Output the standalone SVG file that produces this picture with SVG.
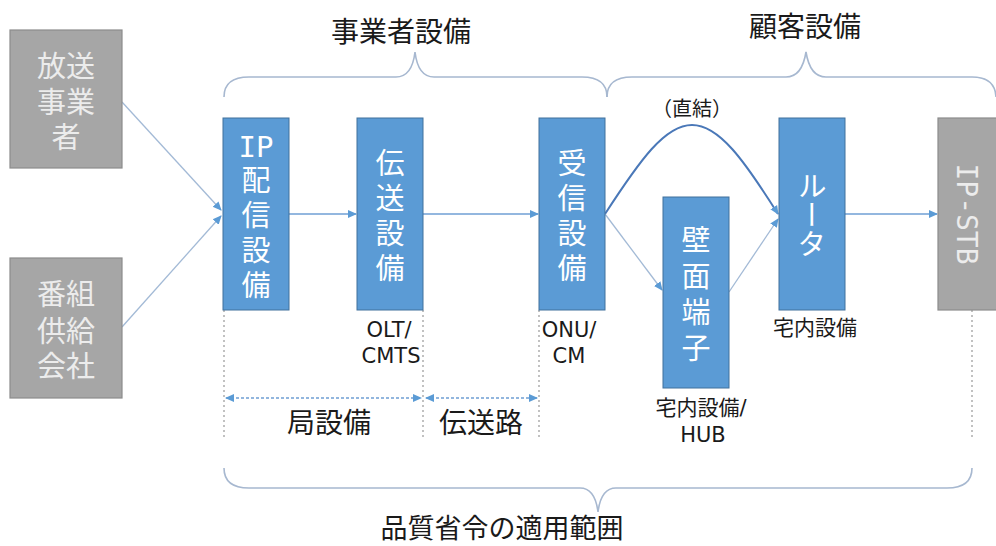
<svg xmlns="http://www.w3.org/2000/svg" width="996" height="546" viewBox="0 0 996 546">
<style>
.gray{fill:#a6a6a6;stroke:#8c8c8c;stroke-width:1.2}
.blue{fill:#5b9bd5;stroke:#41719c;stroke-width:1}
.bt{font-family:"Noto Sans CJK JP",sans-serif;font-size:29px;fill:#ffffff;text-anchor:middle}
.vt{font-family:"Noto Sans CJK JP",sans-serif;font-size:29px;fill:#ffffff;writing-mode:vertical-rl;letter-spacing:6px}
.gt{font-family:"Noto Sans CJK JP",sans-serif;font-size:29px;fill:#ececec;text-anchor:middle}
.lbl{font-family:"DejaVu Sans","Noto Sans CJK JP",sans-serif;font-size:21px;fill:#1a1a1a;text-anchor:middle}
.hd{font-family:"Noto Sans CJK JP",sans-serif;font-size:28px;fill:#1a1a1a;text-anchor:middle}
.mono{font-family:"DejaVu Sans Mono","Noto Sans CJK JP",monospace}
.brace{fill:none;stroke:#a7b8d0;stroke-width:1.6}
.dot{fill:none;stroke:#a0a0a0;stroke-width:1.3;stroke-dasharray:2 3}
.ln{fill:none;stroke:#6f9fd4;stroke-width:1.3}
.lt{fill:none;stroke:#a3bad6;stroke-width:1.3}
.dash{fill:none;stroke:#6f9fd4;stroke-width:1.3;stroke-dasharray:3 2}
</style>
<defs>
<marker id="ah" markerWidth="10" markerHeight="10" refX="8" refY="5" orient="auto" markerUnits="userSpaceOnUse">
<path d="M0,1 L9,5 L0,9 Z" fill="#5b9bd5"/>
</marker>
<marker id="as" markerWidth="10" markerHeight="10" refX="1" refY="5" orient="auto" markerUnits="userSpaceOnUse">
<path d="M9,1 L0,5 L9,9 Z" fill="#5b9bd5"/>
</marker>
</defs>
<rect width="996" height="546" fill="#ffffff"/>

<g id="braces">
<path class="brace" d="M224,97 Q224,77 249,77 L396,77 Q412,77 415,52 Q418,77 434,77 L582,77 Q607,77 607,97"/>
<path class="brace" d="M607,97 Q607,77 632,77 L786,77 Q802,77 806,52 Q810,77 826,77 L972,77 Q995,77 996,97"/>
<path class="brace" d="M224,468 Q224,488 249,488 L580,488 Q595,488 598,512 Q601,488 616,488 L947,488 Q972,488 972,468"/>
<text class="hd" x="401" y="42">事業者設備</text>
<text class="hd" x="805" y="37">顧客設備</text>
<text class="hd" x="502" y="538" style="font-size:27px">品質省令の適用範囲</text>
</g>

<g id="connectors">
<path class="lt" d="M122,102 L221,210" marker-end="url(#ah)"/>
<path class="lt" d="M122,327 L221,216" marker-end="url(#ah)"/>
<path class="ln" d="M289,214 L356,214" marker-end="url(#ah)"/>
<path class="ln" d="M423,214 L538,214" marker-end="url(#ah)"/>
<path fill="none" stroke="#4a78b8" stroke-width="2" d="M605,214 C640,160 665,125 692,125 C719,125 744,160 778,214" marker-end="url(#ah)"/>
<path class="lt" d="M605,214 L662,290" marker-end="url(#ah)"/>
<path class="lt" d="M729,292 L778,219" marker-end="url(#ah)"/>
<path class="ln" d="M845,214 L937,214" marker-end="url(#ah)"/>
<path class="dot" d="M224,310 V440 M423,310 V440 M539,310 V440 M972,310 V440"/>
<path class="dash" d="M226,398 L421,398" marker-start="url(#as)" marker-end="url(#ah)"/>
<path class="dash" d="M426,398 L537,398" marker-start="url(#as)" marker-end="url(#ah)"/>
<text class="lbl" x="692" y="116" style="font-size:20px">（直結）</text>
<text class="hd" x="329" y="433">局設備</text>
<text class="hd" x="481" y="433">伝送路</text>
</g>

<g id="n-broadcaster">
<rect class="gray" x="10" y="30" width="112" height="138"/>
<text class="gt"><tspan x="66" y="77">放送</tspan><tspan x="66" y="113">事業</tspan><tspan x="66" y="148">者</tspan></text>
</g>

<g id="n-supplier">
<rect class="gray" x="10" y="258" width="112" height="140"/>
<text class="gt"><tspan x="66" y="305">番組</tspan><tspan x="66" y="342">供給</tspan><tspan x="66" y="377">会社</tspan></text>
</g>

<g id="n-ipdist">
<rect class="blue" x="223" y="118" width="66" height="192"/>
<text class="bt mono" x="256" y="157">IP</text>
<text class="vt" x="256" y="165.5">配信設備</text>
</g>

<g id="n-trans">
<rect class="blue" x="357" y="118" width="66" height="192"/>
<text class="vt" x="390" y="148.5">伝送設備</text>
<text class="lbl"><tspan x="389" y="337">OLT/</tspan><tspan x="391" y="363">CMTS</tspan></text>
</g>

<g id="n-recv">
<rect class="blue" x="539" y="118" width="66" height="192"/>
<text class="vt" x="572" y="148.5">受信設備</text>
<text class="lbl"><tspan x="569" y="337">ONU/</tspan><tspan x="569" y="363">CM</tspan></text>
</g>

<g id="n-wall">
<rect class="blue" x="663" y="197" width="66" height="191"/>
<text class="vt" x="696" y="225.5" style="letter-spacing:7px">壁面端子</text>
<text class="lbl"><tspan x="701" y="415">宅内設備/</tspan><tspan x="703" y="442">HUB</tspan></text>
</g>

<g id="n-router">
<rect class="blue" x="779" y="118" width="66" height="192"/>
<text class="bt" x="812" y="215" style="writing-mode:vertical-rl">ルータ</text>
<text class="lbl" x="815" y="335">宅内設備</text>
</g>

<g id="n-stb">
<rect class="gray" x="938" y="118" width="64" height="192"/>
<text class="gt mono" x="0" y="0" transform="translate(957,214) rotate(90)" style="font-size:28px">IP-STB</text>
</g>
</svg>
